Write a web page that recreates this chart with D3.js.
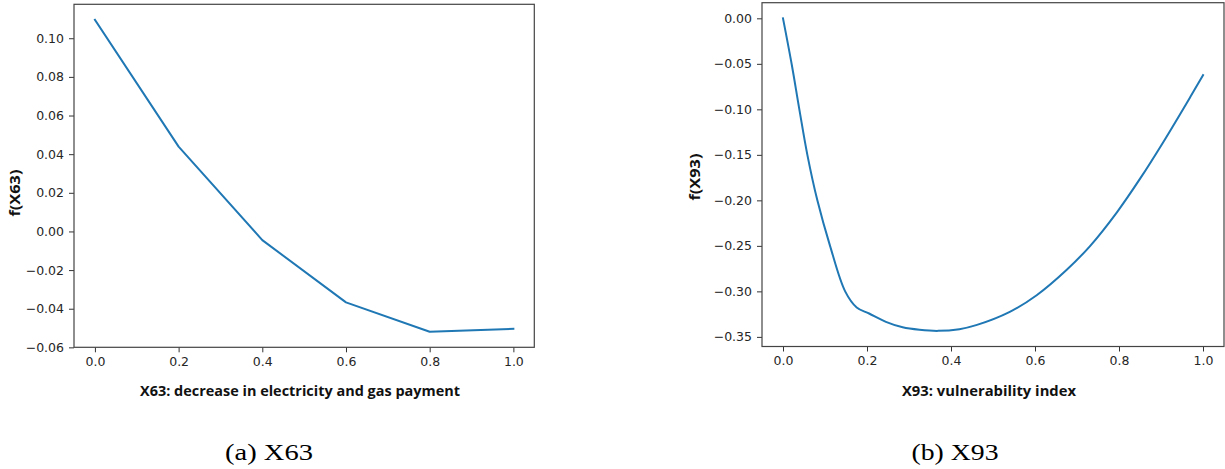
<!DOCTYPE html>
<html>
<head>
<meta charset="utf-8">
<script src="https://cdn.jsdelivr.net/npm/d3@7"></script>
<style>
    body { margin: 0; background: #fff; }
    svg { display: block; }
</style>
</head>
<body>
<script>
// Data
const x63 = [0, 0.2, 0.4, 0.6, 0.8, 1.0];
const f63 = [0.1095, 0.0439, -0.0045, -0.0367, -0.0519, -0.0504];

const x93 = [0, 0.0206, 0.0389, 0.058, 0.0818, 0.112, 0.148, 0.1755, 0.205, 0.245, 0.285, 0.325,
    0.369, 0.42, 0.46, 0.54, 0.604, 0.675, 0.731, 0.795, 0.851, 0.906, 0.97, 1.0];
const f93 = [0, -0.0502, -0.1, -0.15, -0.2, -0.25, -0.3, -0.3177, -0.3243, -0.3335, -0.3395, -0.3422,
    -0.3434, -0.3415, -0.3371, -0.3225, -0.3042, -0.2765, -0.2502, -0.2131, -0.1756, -0.1355, -0.0862, -0.0625];

const xTicks = [0, 0.2, 0.4, 0.6, 0.8, 1.0];
const yTicks63 = [-0.06, -0.04, -0.02, 0, 0.02, 0.04, 0.06, 0.08, 0.10];
const yTicks93 = [-0.35, -0.30, -0.25, -0.20, -0.15, -0.10, -0.05, 0];

const xLabels = ['X63: decrease in electricity and gas payment', 'X93: vulnerability index'];
const yLabels = ['f(X63)', 'f(X93)'];
const captions = ['(a) X63', '(b) X93'];

const width = 1225;
const height = 469;

// Panel placement (pixels)
const layout = [
    { left: 74, right: 534.3, top: 4.3, bottom: 347.3, ylabX: 15, ylabY: 193, xlabX: 300, xlabLen: 320, capX: 269, capLen: 88 },
    { left: 762, right: 1224, top: 2.7, bottom: 346.5, ylabX: 695, ylabY: 177, xlabX: 989, xlabLen: 174, capX: 955, capLen: 87 }
];

// first panel is piecewise linear, second is a smooth spline
const panels = [
    { xs: x63, ys: f63, yTicks: yTicks63, curve: d3.curveLinear },
    { xs: x93, ys: f93, yTicks: yTicks93, curve: d3.curveCatmullRom.alpha(0.5) }
];

const svg = d3
    .select('body')
    .append('svg')
    .attr('width', width)
    .attr('height', height);

panels.forEach((p, i) => {
    const L = layout[i];
    const pts = p.xs.map((x, j) => [x, p.ys[j]]);

    // matplotlib-style 5% margins
    const [xmin, xmax] = d3.extent(p.xs);
    const [ymin, ymax] = d3.extent(p.ys);
    const xm = (xmax - xmin) * 0.05;
    const ym = (ymax - ymin) * 0.05;

    const xScale = d3.scaleLinear().domain([xmin - xm, xmax + xm]).range([L.left, L.right]);
    const yScale = d3.scaleLinear().domain([ymin - ym, ymax + ym]).range([L.bottom, L.top]);

    const g = svg.append('g');

    // Line
    g
        .append('path')
        .datum(pts)
        .attr('fill', 'none')
        .attr('stroke', '#1f77b4')
        .attr('stroke-width', 2)
        .attr('stroke-linejoin', 'round')
        .attr('stroke-linecap', 'square')
        .attr('d', d3.line().x(d => xScale(d[0])).y(d => yScale(d[1])).curve(p.curve));

    // Set x-axis
    const xAxis = g
        .append('g')
        .attr('transform', `translate(0, ${L.bottom})`)
        .call(d3.axisBottom(xScale).tickValues(xTicks).tickFormat(d3.format('.1f')).tickSize(5).tickSizeOuter(0).tickPadding(5));

    // Set y-axis
    const yAxis = g
        .append('g')
        .attr('transform', `translate(${L.left}, 0)`)
        .call(d3.axisLeft(yScale).tickValues(p.yTicks).tickFormat(d3.format('.2f')).tickSize(5).tickSizeOuter(0).tickPadding(5));

    [xAxis, yAxis].forEach(a => {
        a.select('.domain').remove();
        a.selectAll('line').attr('stroke', '#333').attr('stroke-width', 1);
        a.selectAll('text')
            .attr('fill', '#262626')
            .style('font-family', 'DejaVu Sans')
            .style('font-size', '12.5px');
    });

    // Frame
    g
        .append('rect')
        .attr('x', L.left)
        .attr('y', L.top)
        .attr('width', L.right - L.left)
        .attr('height', L.bottom - L.top)
        .attr('fill', 'none')
        .attr('stroke', '#444')
        .attr('stroke-width', 1.2);

    // Axis labels
    g
        .append('text')
        .attr('x', L.xlabX)
        .attr('y', 395.5)
        .attr('text-anchor', 'middle')
        .attr('textLength', L.xlabLen)
        .attr('lengthAdjust', 'spacingAndGlyphs')
        .style('font-family', 'Open Sans')
        .style('font-weight', 700)
        .style('font-size', '13.5px')
        .attr('fill', '#111')
        .text(xLabels[i]);

    g
        .append('text')
        .attr('transform', `translate(${L.ylabX}, ${L.ylabY}) rotate(-90)`)
        .attr('dy', '0.35em')
        .attr('text-anchor', 'middle')
        .attr('textLength', 47)
        .attr('lengthAdjust', 'spacingAndGlyphs')
        .style('font-family', 'Open Sans')
        .style('font-weight', 700)
        .style('font-size', '13.5px')
        .attr('fill', '#111')
        .text(yLabels[i]);

    // Caption
    g
        .append('text')
        .attr('x', L.capX)
        .attr('y', 460)
        .attr('text-anchor', 'middle')
        .attr('textLength', L.capLen)
        .attr('lengthAdjust', 'spacingAndGlyphs')
        .style('font-family', 'Liberation Serif')
        .style('font-size', '23px')
        .attr('fill', '#000')
        .text(captions[i]);
});
</script>
</body>
</html>
